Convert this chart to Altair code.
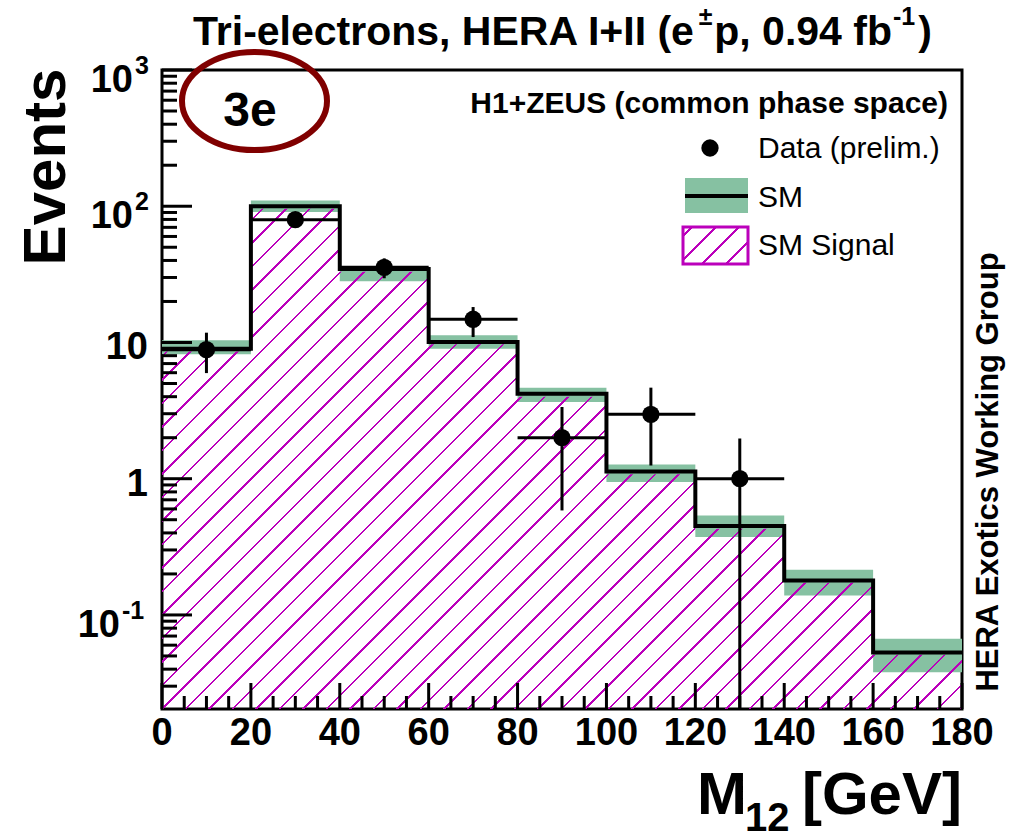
import math
import altair as alt
import pandas as pd

# ---------------- data ----------------
bin_lo = [0, 20, 40, 60, 80, 100, 120, 140, 160]
bin_hi = [20, 40, 60, 80, 100, 120, 140, 160, 180]
sm_total = [9.0, 100.0, 34.6, 10.1, 4.2, 1.13, 0.45, 0.179, 0.053]
sm_band_lo = [8.2, 90.7, 28.2, 9.0, 3.65, 0.944, 0.373, 0.139, 0.0379]
sm_band_hi = [10.4, 110.0, 35.5, 11.3, 4.65, 1.27, 0.538, 0.215, 0.0669]
sm_signal = [8.6, 96.0, 33.0, 9.7, 4.0, 1.08, 0.43, 0.172, 0.051]

data_x = [10, 30, 50, 70, 90, 110, 130]
data_y = [8.85, 79.7, 35.6, 14.8, 2.0, 2.97, 1.0]
data_err_lo = [5.96, 71.0, 29.6, 10.96, 0.585, 1.25, 0.0204]
data_err_hi = [11.8, 89.0, 41.4, 18.2, 3.36, 4.66, 1.97]
data_bin_lo = [0, 20, 40, 60, 80, 100, 120]
data_bin_hi = [20, 40, 60, 80, 100, 120, 140]

x_major = [0, 20, 40, 60, 80, 100, 120, 140, 160, 180]
x_minor = [5, 10, 15, 25, 30, 35, 45, 50, 55, 65, 70, 75, 85, 90, 95, 105, 110, 115,
           125, 130, 135, 145, 150, 155, 165, 170, 175]
x_labels = ["0", "20", "40", "60", "80", "100", "120", "140", "160", "180"]
y_major = [0.1, 1, 10, 100, 1000]
y_minor = [0.03, 0.04, 0.05, 0.06, 0.07, 0.08, 0.09,
           0.2, 0.3, 0.4, 0.5, 0.6, 0.7, 0.8, 0.9,
           2, 3, 4, 5, 6, 7, 8, 9,
           20, 30, 40, 50, 60, 70, 80, 90,
           200, 300, 400, 500, 600, 700, 800, 900]

Y_MIN, Y_MAX = 0.0204, 1000.0
W, H = 800, 639

GREEN = "#86c1a2"
MAG = "#bb00bb"
CLEAR = "rgba(255,255,255,0)"
DARKRED = "#800000"
FONT = "Liberation Sans"

xs = alt.Scale(domain=[0, 180], nice=False, zero=False)
ys = alt.Scale(type="log", domain=[Y_MIN, Y_MAX], nice=False)


def ypix(v):
    return H * (math.log10(Y_MAX) - math.log10(v)) / (math.log10(Y_MAX) - math.log10(Y_MIN))


def hatch(w, h, phase, period=23.5, lw=2.6):
    S = w + h
    stops = [alt.GradientStop(color=CLEAR, offset=0)]
    s = phase - 3 * period
    while s < S:
        a = max(s, 0.0) / S
        b = min(s + lw, S) / S
        if b > a:
            stops += [alt.GradientStop(color=CLEAR, offset=a),
                      alt.GradientStop(color=MAG, offset=a),
                      alt.GradientStop(color=MAG, offset=b),
                      alt.GradientStop(color=CLEAR, offset=b)]
        s += period
    stops.append(alt.GradientStop(color=CLEAR, offset=1))
    k = S / (w * w + h * h)
    return alt.LinearGradient(gradient="linear", stops=stops, x1=0, y1=0, x2=w * k, y2=h * k)


hist = pd.DataFrame({"lo": bin_lo, "hi": bin_hi, "blo": sm_band_lo, "bhi": sm_band_hi})
step = pd.DataFrame({
    "x": bin_lo + [bin_hi[-1]],
    "sm": sm_total + [sm_total[-1]],
    "sig": sm_signal + [sm_signal[-1]],
    "base": [Y_MIN] * (len(bin_lo) + 1),
})
pts = pd.DataFrame({"x": data_x, "y": data_y, "lo": data_err_lo, "hi": data_err_hi,
                    "xlo": data_bin_lo, "xhi": data_bin_hi})

X = lambda f: alt.X(f, scale=xs, axis=None)
Y = lambda f: alt.Y(f, scale=ys, axis=None)

band = alt.Chart(hist).mark_rect(color=GREEN, opacity=1).encode(
    x=X("lo:Q"), x2="hi:Q", y=Y("blo:Q"), y2="bhi:Q")

y_top = ypix(max(sm_signal))
hb = H - y_top
hatch_area = alt.Chart(step).mark_area(
    interpolate="step-after", orient="vertical",
    fill=hatch(W, hb, phase=(hb % 23.5) - 1.3)).encode(
    x=X("x:Q"), y=Y("sig:Q"), y2="base:Q")

sm_line = alt.Chart(step).mark_line(interpolate="step-after", color="black", strokeWidth=4).encode(
    x=X("x:Q"), y=Y("sm:Q"))

err_v = alt.Chart(pts).mark_rule(color="black", strokeWidth=3).encode(
    x=X("x:Q"), y=Y("lo:Q"), y2="hi:Q")
err_h = alt.Chart(pts).mark_rule(color="black", strokeWidth=3).encode(
    x=X("xlo:Q"), x2="xhi:Q", y=Y("y:Q"))
points = alt.Chart(pts).mark_circle(size=300, color="black", opacity=1).encode(
    x=X("x:Q"), y=Y("y:Q"))

ymaj = alt.Chart(pd.DataFrame({"v": y_major})).mark_rule(color="black", strokeWidth=3).encode(
    y=Y("v:Q"), x=alt.value(0), x2=alt.value(30))
ymin = alt.Chart(pd.DataFrame({"v": y_minor})).mark_rule(color="black", strokeWidth=3).encode(
    y=Y("v:Q"), x=alt.value(0), x2=alt.value(15))
xmaj = alt.Chart(pd.DataFrame({"v": x_major})).mark_rule(color="black", strokeWidth=3).encode(
    x=X("v:Q"), y=alt.value(H), y2=alt.value(H - 26))
xmin = alt.Chart(pd.DataFrame({"v": x_minor})).mark_rule(color="black", strokeWidth=3).encode(
    x=X("v:Q"), y=alt.value(H), y2=alt.value(H - 13))

xlab = alt.Chart(pd.DataFrame({"v": x_major, "t": x_labels})).mark_text(
    font=FONT, fontWeight="bold", fontSize=38, baseline="alphabetic", align="center").encode(
    x=X("v:Q"), y=alt.value(675), text="t:N")


def ylab(vals, texts, xpos, size, dy, align="right"):
    return alt.Chart(pd.DataFrame({"v": vals, "t": texts})).mark_text(
        font=FONT, fontWeight="bold", fontSize=size, baseline="alphabetic", align=align, dy=dy).encode(
        y=Y("v:Q"), x=alt.value(xpos), text="t:N")


ylabels = [
    ylab([10, 1], ["10", "1"], -14, 38, 17),
    ylab([1000, 100], ["10", "10"], -29, 38, 22),
    ylab([0.1], ["10"], -42, 38, 22),
    ylab([1000, 100], ["3", "2"], -27, 25, 4, align="left"),
    ylab([0.1], ["-1"], -40, 25, 4, align="left"),
]

ONE = pd.DataFrame({"t": [""]})


def txt(text, x, y, size, bold=True, align="left", angle=0, color="black"):
    kw = dict(font=FONT, fontSize=size, fontWeight="bold" if bold else "normal",
              align=align, baseline="alphabetic", color=color)
    if angle:
        kw["angle"] = angle
    return alt.Chart(pd.DataFrame({"t": [text]})).mark_text(**kw).encode(
        x=alt.value(x), y=alt.value(y), text="t:N")


# Helvetica-Bold advance widths (per 1000 em)
AFM = {"T": 611, "r": 389, "i": 278, "-": 333, "e": 556, "l": 278, "c": 556, "t": 333,
       "o": 611, "n": 611, "s": 556, ",": 278, " ": 278, "H": 722, "E": 667, "R": 722,
       "A": 722, "I": 278, "+": 584, "(": 333, ")": 333, "p": 611, ".": 278, "f": 333,
       "b": 611, "\u00b1": 584, "0": 556, "1": 556, "2": 556, "3": 556, "4": 556,
       "5": 556, "6": 556, "7": 556, "8": 556, "9": 556}


def tw(s, size):
    return sum(AFM[c] for c in s) * size / 1000.0


TS, SS = 41, 25
tx0, tby = 31, -25
p1 = "Tri-electrons, HERA I+II (e"
p3 = "p, 0.94 fb"
x_pm = tx0 + tw(p1, TS) + 1
x_p3 = x_pm + tw("\u00b1", SS) + 1
x_m1 = x_p3 + tw(p3, TS) + 1
x_cl = x_m1 + tw("-1", SS) + 3
title = [
    txt(p1, tx0, tby, TS),
    txt("\u00b1", x_pm, tby - 20, SS),
    txt(p3, x_p3, tby, TS),
    txt("-1", x_m1, tby - 20, SS),
    txt(")", x_cl, tby, TS),
]

axis_titles = [
    txt("Events", -97, 97, 60, angle=270, align="center"),
    txt("M", 535, 744, 60),
    txt("12", 583, 761, 40),
    txt("[GeV]", 800, 744, 60, align="right"),
    txt("HERA Exotics Working Group", 836, 402, 31, angle=270, align="center"),
]

# ellipse around "3e"
c = 0.5523
k = 49.0 / 72.5
ELL = (f"M 1 0 C 1 {c*k:.4f} {c:.4f} {k:.4f} 0 {k:.4f} "
       f"C {-c:.4f} {k:.4f} -1 {c*k:.4f} -1 0 "
       f"C -1 {-c*k:.4f} {-c:.4f} {-k:.4f} 0 {-k:.4f} "
       f"C {c:.4f} {-k:.4f} 1 {-c*k:.4f} 1 0 Z")
ellipse = alt.Chart(ONE).mark_point(shape=ELL, size=(2 * 72.5) ** 2, filled=False,
                                    color=DARKRED, strokeWidth=6, opacity=1).encode(
    x=alt.value(92.5), y=alt.value(31))

annot = [
    txt("3e", 88, 56, 48, align="center"),
    txt("H1+ZEUS (common phase space)", 786, 43, 30, align="right"),
    txt("Data (prelim.)", 596, 88, 30, bold=False),
    txt("SM", 596, 137, 30, bold=False),
    txt("SM Signal", 596, 185, 30, bold=False),
]

leg_pt = alt.Chart(ONE).mark_circle(size=300, color="black", opacity=1).encode(
    x=alt.value(548), y=alt.value(78))
leg_band = alt.Chart(ONE).mark_rect(color=GREEN, opacity=1).encode(
    x=alt.value(523), x2=alt.value(586), y=alt.value(108), y2=alt.value(143))
leg_line = alt.Chart(ONE).mark_rule(color="black", strokeWidth=4).encode(
    x=alt.value(523), x2=alt.value(586), y=alt.value(126))
leg_sig = alt.Chart(ONE).mark_rect(fill=hatch(65, 37, phase=8), stroke=MAG, strokeWidth=3).encode(
    x=alt.value(521), x2=alt.value(586), y=alt.value(157), y2=alt.value(194))

chart = alt.layer(
    band, hatch_area, sm_line, err_v, err_h, points,
    ymaj, ymin, xmaj, xmin, xlab, *ylabels, *title, *axis_titles,
    ellipse, *annot, leg_pt, leg_band, leg_line, leg_sig,
).properties(
    width=W, height=H,
    padding={"left": 162, "top": 70, "right": 50, "bottom": 129},
    autosize=alt.AutoSizeParams(type="none"),
).configure_view(stroke="black", strokeWidth=3)

chart.save("out.html", embed_options={"renderer": "svg", "actions": False})
